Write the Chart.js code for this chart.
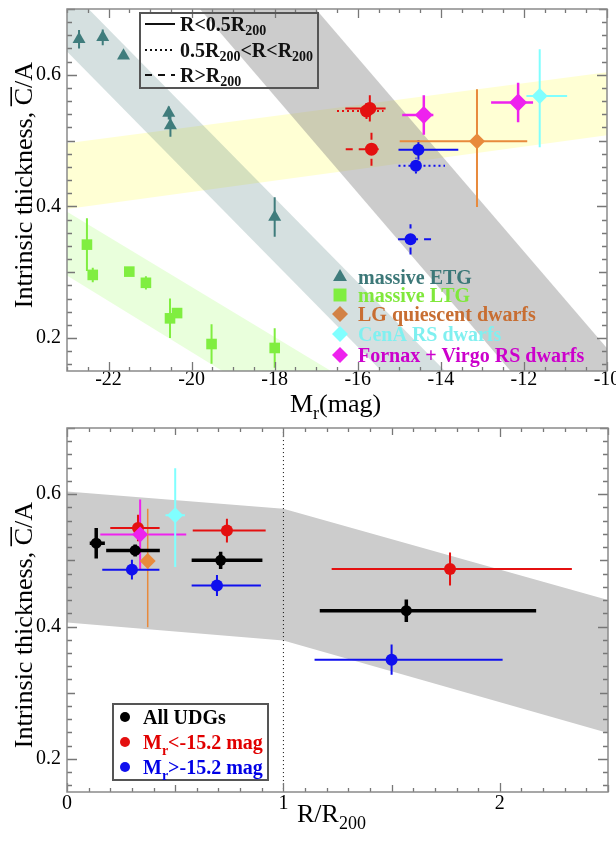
<!DOCTYPE html>
<html><head><meta charset="utf-8">
<script src="https://cdn.jsdelivr.net/npm/chart.js@4.4.1/dist/chart.umd.min.js"></script>
<style>
html,body{margin:0;padding:0;background:#fff;}
#wrap{position:relative;width:616px;height:842px;overflow:hidden;}
.box{position:absolute;left:0;width:616px;}
</style></head><body>
<div id="wrap">
<div class="box" style="top:0;height:420px"><canvas id="c1" width="616" height="420"></canvas></div>
<div class="box" style="top:420px;height:422px"><canvas id="c2" width="616" height="422"></canvas></div>
</div>
<script>
// ---------- tick labels ----------
const magTicks = [-22, -20, -18, -16, -14, -12, -10];
const caTicks = [0.2, 0.4, 0.6];
const rTicks = [0, 1, 2];

// ---------- top panel: massive galaxies ----------
const etgMr = [-22.71, -22.14, -21.64, -20.55, -20.51, -18.0];
const etgCA = [0.654, 0.657, 0.629, 0.542, 0.523, 0.384];
const etgCAErr = [0.014, 0.012, 0.004, 0.010, 0.017, 0.030];

const ltgMr = [-22.52, -22.38, -21.5, -21.1, -20.52, -20.35, -19.52, -18.0];
const ltgCA = [0.342, 0.296, 0.301, 0.284, 0.230, 0.238, 0.191, 0.185];
const ltgCAErr = [0.040, 0.011, 0.006, 0.010, 0.030, 0.006, 0.030, 0.030];

// dwarf samples
const lgMr = [-13.13], lgMrErrLo = [1.86], lgMrErrHi = [1.21];
const lgCA = [0.499], lgCAErrLo = [0.100], lgCAErrHi = [0.079];
const cenaMr = [-11.62], cenaMrErrLo = [0.32], cenaMrErrHi = [0.66];
const cenaCA = [0.568], cenaCAErrLo = [0.078], cenaCAErrHi = [0.071];
const fvMr = [-12.14, -14.41], fvMrErrLo = [0.65, 0.52], fvMrErrHi = [0.36, 0.23];
const fvCA = [0.558, 0.539], fvCAErr = [0.030, 0.030];

// UDGs by radial bin (R<0.5R200, 0.5R200<R<R200, R>R200)
const binLabels = ['R<0.5R_{200}', '0.5R_{200}<R<R_{200}', 'R>R_{200}'];
const redMr = [-15.71, -15.79, -15.67], redMrErrLo = [0.59, 0.71, 0.62], redMrErrHi = [0.38, 0.41, 0.24];
const redCA = [0.549, 0.545, 0.487], redCAErr = [0.020, 0.012, 0.025];
const blueMr = [-14.54, -14.60, -14.73], blueMrErrLo = [0.48, 0.42, 0.30], blueMrErrHi = [0.96, 0.70, 0.53];
const blueCA = [0.486, 0.462, 0.350], blueCAErr = [0.015, 0.012, 0.023];

// shaded relations (polygon corners)
const yellowBandMr = [-23, -10, -10, -23];
const yellowBandCA = [0.496, 0.604, 0.508, 0.396];
const ltgBandMr = [-23, -10, -10, -23];
const ltgBandCA = [0.392, -0.103, -0.209, 0.295];
const etgBandMr = [-24.79, -23.26, -13.12, -14.65];
const etgBandCA = [0.75, 0.75, 0.10, 0.10];
const udgBandMr = [-20.48, -17.69, -8.85, -11.64];
const udgBandCA = [0.75, 0.75, 0.10, 0.10];

const sampleNames = ['massive ETG', 'massive LTG', 'LG quiescent dwarfs', 'CenA RS dwarfs', 'Fornax + Virgo RS dwarfs'];

// ---------- bottom panel: radial distance ----------
const allR = [0.135, 0.315, 0.710, 1.568], allRErrLo = [0.030, 0.134, 0.134, 0.400], allRErrHi = [0.040, 0.114, 0.193, 0.600];
const allCA = [0.526, 0.515, 0.500, 0.424], allCAErr = [0.023, 0.009, 0.013, 0.017];
const redR = [0.328, 0.739, 1.770], redRErrLo = [0.128, 0.158, 0.547], redRErrHi = [0.100, 0.179, 0.563];
const redCA2Err = [0.020, 0.018, 0.025];
const blueR = [0.300, 0.693, 1.500], blueRErrLo = [0.137, 0.117, 0.356], blueRErrHi = [0.127, 0.203, 0.513];
const blueCA2Err = [0.015, 0.016, 0.023];
const lgR = [0.373];
const cenaR = [0.500], cenaRErr = [0.045];
const fvR = [0.338], fvRErrLo = [0.184], fvRErrHi = [0.213], fvCA2 = [0.539], fvCA2Err = [0.053];
const r200Line = [1, 1], r200LineCA = [0.1, 0.8];
const udgBandR = [0, 1, 2.5, 2.5, 1, 0];
const udgBandCA2 = [0.604, 0.578, 0.440, 0.239, 0.379, 0.406];
const groupNames = ['All UDGs', 'M_{r}<-15.2 mag', 'M_{r}>-15.2 mag'];

// ---------- styles ----------
const SERIF = "'Liberation Serif', 'Times New Roman', serif";
const C = {
  teal: 'rgb(63,124,124)', lime: 'rgb(128,238,64)', orange: 'rgb(232,138,60)',
  cyan: 'rgb(128,255,255)', magenta: 'rgb(238,34,238)', red: 'rgb(228,16,16)',
  blue: 'rgb(16,16,238)', black: '#000'
};
const legendText = ['rgb(60,120,120)', 'rgb(128,232,60)', 'rgb(200,110,50)', 'rgb(128,240,240)', 'rgb(204,0,204)'];
const legendMarker = [C.teal, C.lime, 'rgb(210,130,70)', C.cyan, C.magenta];
const legendStyle = ['triangle', 'rect', 'rectRot', 'rectRot', 'rectRot'];
const DOT = [2, 3], DASH = [7, 6];

Chart.defaults.animation = false;
Chart.defaults.font.family = SERIF;

function pts(xs, ys) { return xs.map((x, i) => ({x, y: ys[i]})); }
function errPts(xs, ys, xlo, xhi, ylo, yhi) {
  const out = [];
  xs.forEach((x, i) => {
    const y = ys[i];
    const a = xlo ? xlo[i] : 0, b = xhi ? xhi[i] : 0;
    if (a || b) out.push({x: x - a, y}, {x: x + b, y}, {x, y: null});
    const c = ylo ? ylo[i] : 0, d = yhi ? yhi[i] : 0;
    if (c || d) out.push({x, y: y - c}, {x, y: y + d}, {x, y: null});
  });
  return out;
}
function errSet(data, color, w, dash) {
  return {data, borderColor: color, borderWidth: w, borderDash: dash || [], pointRadius: 0,
    showLine: true, fill: false, spanGaps: false, order: 2};
}
function markSet(xs, ys, style, r, color) {
  return {data: pts(xs, ys), showLine: false, pointStyle: style, pointRadius: r,
    pointBackgroundColor: color, pointBorderColor: color, pointBorderWidth: 0, order: 1};
}
function bandSet(xs, ys, color, order) {
  return {data: pts(xs, ys), showLine: true, fill: 'shape', backgroundColor: color,
    borderWidth: 0, pointRadius: 0, order};
}
function pick(arr, i) { return [arr[i]]; }

function parseSub(s) {
  const parts = []; const re = /_\{([^}]*)\}/g; let last = 0, m;
  while ((m = re.exec(s))) { if (m.index > last) parts.push([s.slice(last, m.index), false]); parts.push([m[1], true]); last = re.lastIndex; }
  if (last < s.length) parts.push([s.slice(last), false]);
  return parts;
}
function richText(ctx, str, x, y, size, weight, color, subDrop) {
  const parts = parseSub(str);
  const drop = subDrop === undefined ? 0.28 : subDrop;
  ctx.save(); ctx.fillStyle = color; ctx.textAlign = 'left'; ctx.textBaseline = 'alphabetic';
  let cx = x;
  for (const [t, sub] of parts) {
    ctx.font = `${weight} ${sub ? Math.round(size * 0.7) : size}px ${SERIF}`;
    ctx.fillText(t, cx, sub ? y + size * drop : y);
    cx += ctx.measureText(t).width;
  }
  ctx.restore();
}
function yTitle(ctx, xBase, yEnd, size) {
  ctx.save();
  ctx.translate(xBase, yEnd); ctx.rotate(-Math.PI / 2);
  ctx.font = `${size}px ${SERIF}`; ctx.fillStyle = '#000';
  ctx.textAlign = 'right'; ctx.textBaseline = 'alphabetic';
  ctx.fillText('Intrinsic thickness, C/A', 0, 0);
  const wA = ctx.measureText('/A').width, wC = ctx.measureText('C').width;
  ctx.strokeStyle = '#000'; ctx.lineWidth = 1.6;
  ctx.beginPath(); ctx.moveTo(-wA - wC - 1, -size * 0.8); ctx.lineTo(-wA + 1, -size * 0.8); ctx.stroke();
  ctx.restore();
}
function marker(ctx, style, x, y, r, color) {
  ctx.save(); ctx.fillStyle = color; ctx.beginPath();
  if (style === 'triangle') { ctx.moveTo(x, y - r); ctx.lineTo(x + r * 0.87, y + r * 0.5); ctx.lineTo(x - r * 0.87, y + r * 0.5); }
  else if (style === 'rect') { const s = r * 0.72; ctx.rect(x - s, y - s, 2 * s, 2 * s); }
  else if (style === 'rectRot') { ctx.moveTo(x, y - r); ctx.lineTo(x + r, y); ctx.lineTo(x, y + r); ctx.lineTo(x - r, y); }
  else { ctx.arc(x, y, r, 0, Math.PI * 2); }
  ctx.closePath(); ctx.fill(); ctx.restore();
}
function drawFrame(chart, cfg) {
  const ctx = chart.ctx, a = chart.chartArea;
  const sx = chart.scales.x, sy = chart.scales.y;
  ctx.save();
  ctx.setLineDash([]);
  ctx.strokeStyle = '#777'; ctx.lineWidth = 1.3;
  const isMul = (v, s) => !!s && Math.abs(v / s - Math.round(v / s)) < 1e-6;
  ctx.beginPath();
  const x0 = Math.ceil(cfg.xMin / cfg.xs - 1e-6), x1 = Math.floor(cfg.xMax / cfg.xs + 1e-6);
  for (let k = x0; k <= x1; k++) {
    const v = k * cfg.xs, p = Math.round(sx.getPixelForValue(v)) + 0.5;
    const L = isMul(v, cfg.xM) ? 9 : (isMul(v, cfg.xm) ? 7 : 4);
    ctx.moveTo(p, a.bottom); ctx.lineTo(p, a.bottom - L);
    ctx.moveTo(p, a.top); ctx.lineTo(p, a.top + L);
  }
  const y0 = Math.ceil(cfg.yMin / cfg.ys - 1e-6), y1 = Math.floor(cfg.yMax / cfg.ys + 1e-6);
  for (let k = y0; k <= y1; k++) {
    const v = k * cfg.ys, p = Math.round(sy.getPixelForValue(v)) + 0.5;
    const L = isMul(v, cfg.yM) ? 10 : (isMul(v, cfg.ym) ? 8 : 5);
    ctx.moveTo(a.left, p); ctx.lineTo(a.left + L, p);
    ctx.moveTo(a.right, p); ctx.lineTo(a.right - L, p);
  }
  ctx.stroke();
  ctx.strokeStyle = '#8a8a8a'; ctx.lineWidth = 1.5;
  ctx.strokeRect(a.left, a.top, a.right - a.left, a.bottom - a.top);
  ctx.restore();
}
function scalesCfg(xmin, xmax, xTicks, xPad, xH, yW, xFmt) {
  return {
    x: {type: 'linear', min: xmin, max: xmax,
      afterBuildTicks: s => { s.ticks = xTicks.map(v => ({value: v})); },
      afterFit: s => { s.height = xH; s.paddingLeft = 0; s.paddingRight = 0; },
      grid: {display: false, drawTicks: false}, border: {display: false},
      ticks: {color: '#000', padding: xPad, font: {size: 20, lineHeight: 1}, callback: xFmt, maxRotation: 0, autoSkip: false}},
    y: {type: 'linear', min: 0.15, max: 0.7,
      afterBuildTicks: s => { s.ticks = caTicks.map(v => ({value: v})); },
      afterFit: s => { s.width = yW; s.paddingTop = 0; s.paddingBottom = 0; },
      grid: {display: false, drawTicks: false}, border: {display: false},
      ticks: {color: '#000', padding: 6, font: {size: 20, lineHeight: 1}, callback: v => v.toFixed(1)}}
  };
}

// ---------- top chart ----------
const topSets = [
  bandSet(yellowBandMr, yellowBandCA, 'rgba(255,255,0,0.17)', 10),
  bandSet(ltgBandMr, ltgBandCA, 'rgba(120,255,40,0.16)', 9),
  bandSet(etgBandMr, etgBandCA, 'rgba(47,100,100,0.2)', 8),
  bandSet(udgBandMr, udgBandCA, 'rgba(128,128,128,0.4)', 7),
  errSet(errPts(etgMr, etgCA, null, null, etgCAErr, etgCAErr), C.teal, 2),
  errSet(errPts(ltgMr, ltgCA, null, null, ltgCAErr, ltgCAErr), C.lime, 2),
  errSet(errPts(lgMr, lgCA, lgMrErrLo, lgMrErrHi, lgCAErrLo, lgCAErrHi), C.orange, 2),
  errSet(errPts(cenaMr, cenaCA, cenaMrErrLo, cenaMrErrHi, cenaCAErrLo, cenaCAErrHi), C.cyan, 2),
  errSet(errPts(fvMr, fvCA, fvMrErrLo, fvMrErrHi, fvCAErr, fvCAErr), C.magenta, 2.5),
  markSet(etgMr, etgCA, 'triangle', 7.5, C.teal),
  markSet(ltgMr, ltgCA, 'rect', 7.5, C.lime),
  markSet(lgMr, lgCA, 'rectRot', 8, C.orange),
  markSet(cenaMr, cenaCA, 'rectRot', 8, C.cyan),
  markSet(fvMr, fvCA, 'rectRot', 9, C.magenta),
];
const binDash = [[], DOT, DASH];
for (let i = 0; i < 3; i++) {
  topSets.push(errSet(errPts(pick(redMr, i), pick(redCA, i), pick(redMrErrLo, i), pick(redMrErrHi, i), pick(redCAErr, i), pick(redCAErr, i)), C.red, 2, binDash[i]));
  topSets.push(errSet(errPts(pick(blueMr, i), pick(blueCA, i), pick(blueMrErrLo, i), pick(blueMrErrHi, i), pick(blueCAErr, i), pick(blueCAErr, i)), C.blue, 2, binDash[i]));
}
topSets.push(markSet(redMr, redCA, 'circle', 6.5, C.red));
topSets.push(markSet(blueMr, blueCA, 'circle', 6, C.blue));

new Chart(document.getElementById('c1'), {
  type: 'line',
  data: {datasets: topSets},
  options: {
    responsive: false, animation: false,
    layout: {padding: {left: 0, right: 3, top: 3, bottom: 0}},
    plugins: {legend: {display: false}, tooltip: {enabled: false}},
    scales: scalesCfg(-23, -10, magTicks, -1, 49, 67, v => String(v))
  },
  plugins: [{
    id: 'decoTop',
    afterDraw(chart) {
      const ctx = chart.ctx;
      drawFrame(chart, {xMin: -23, xMax: -10, xs: 0.5, xM: 2, xm: 0, yMin: 0.15, yMax: 0.7, ys: 0.02, yM: 0.2, ym: 0.1});
      yTitle(ctx, 32, 62, 26);
      richText(ctx, 'M_{r}(mag)', 290, 412, 26, 'normal', '#000');
      // radial-bin legend
      ctx.save();
      ctx.strokeStyle = '#555'; ctx.lineWidth = 2;
      ctx.strokeRect(140, 13, 178, 75);
      ctx.restore();
      const rows = [24, 50, 75];
      rows.forEach((ry, i) => {
        ctx.save(); ctx.strokeStyle = '#111'; ctx.lineWidth = 2; ctx.setLineDash(binDash[i]);
        ctx.beginPath(); ctx.moveTo(145, ry); ctx.lineTo(175, ry); ctx.stroke(); ctx.restore();
        richText(ctx, binLabels[i], 180, ry + 7, 20, 'bold', '#111', 0.22);
      });
      // sample legend
      const ly = [277, 295, 314, 334, 355];
      sampleNames.forEach((n, i) => {
        marker(ctx, legendStyle[i], 340, ly[i], legendStyle[i] === 'rect' ? 9 : 8, legendMarker[i]);
        richText(ctx, n, 358, ly[i] + 7, 20, 'bold', legendText[i]);
      });
    }
  }]
});

// ---------- bottom chart ----------
const botSets = [
  bandSet(udgBandR, udgBandCA2, 'rgb(204,204,204)', 10),
  {data: pts(r200Line, r200LineCA), showLine: true, borderColor: '#000', borderWidth: 1, borderDash: [1, 3], pointRadius: 0, fill: false, order: 3},
  errSet(errPts(allR, allCA, allRErrLo, allRErrHi, allCAErr, allCAErr), C.black, 3.5),
  errSet(errPts(redR, redCA, redRErrLo, redRErrHi, redCA2Err, redCA2Err), C.red, 2),
  errSet(errPts(blueR, blueCA, blueRErrLo, blueRErrHi, blueCA2Err, blueCA2Err), C.blue, 2),
  errSet(errPts(lgR, lgCA, null, null, lgCAErrLo, lgCAErrHi), C.orange, 1.5),
  errSet(errPts(cenaR, cenaCA, cenaRErr, cenaRErr, cenaCAErrLo, cenaCAErrHi), C.cyan, 2),
  errSet(errPts(fvR, fvCA2, fvRErrLo, fvRErrHi, fvCA2Err, fvCA2Err), C.magenta, 2),
  markSet(lgR, lgCA, 'rectRot', 8, C.orange),
  markSet(cenaR, cenaCA, 'rectRot', 8, C.cyan),
  markSet(fvR, fvCA2, 'rectRot', 8, C.magenta),
  markSet(allR, allCA, 'circle', 5.5, C.black),
  markSet(redR, redCA, 'circle', 6, C.red),
  markSet(blueR, blueCA, 'circle', 6, C.blue),
];
new Chart(document.getElementById('c2'), {
  type: 'line',
  data: {datasets: botSets},
  options: {
    responsive: false, animation: false,
    layout: {padding: {left: 0, right: 1, top: 4, bottom: 0}},
    plugins: {legend: {display: false}, tooltip: {enabled: false}},
    scales: scalesCfg(0, 2.5, rTicks, 2, 50, 67, v => String(v))
  },
  plugins: [{
    id: 'decoBot',
    afterDraw(chart) {
      const ctx = chart.ctx;
      drawFrame(chart, {xMin: 0, xMax: 2.5, xs: 0.1, xM: 1, xm: 0.5, yMin: 0.15, yMax: 0.7, ys: 0.02, yM: 0.2, ym: 0.1});
      yTitle(ctx, 32, 82, 26);
      richText(ctx, 'R/R_{200}', 297, 402, 26, 'normal', '#000');
      ctx.save();
      ctx.fillStyle = '#fff'; ctx.fillRect(113, 284, 155, 76);
      ctx.strokeStyle = '#555'; ctx.lineWidth = 2; ctx.strokeRect(113, 284, 155, 76);
      ctx.restore();
      const gc = [C.black, C.red, C.blue], gt = ['#000', 'rgb(225,0,0)', 'rgb(0,0,230)'];
      const ry = [297, 322, 347];
      groupNames.forEach((n, i) => {
        marker(ctx, 'circle', 125, ry[i], 5, gc[i]);
        richText(ctx, n, 143, ry[i] + 7, 20, 'bold', gt[i]);
      });
    }
  }]
});
</script>
</body></html>
